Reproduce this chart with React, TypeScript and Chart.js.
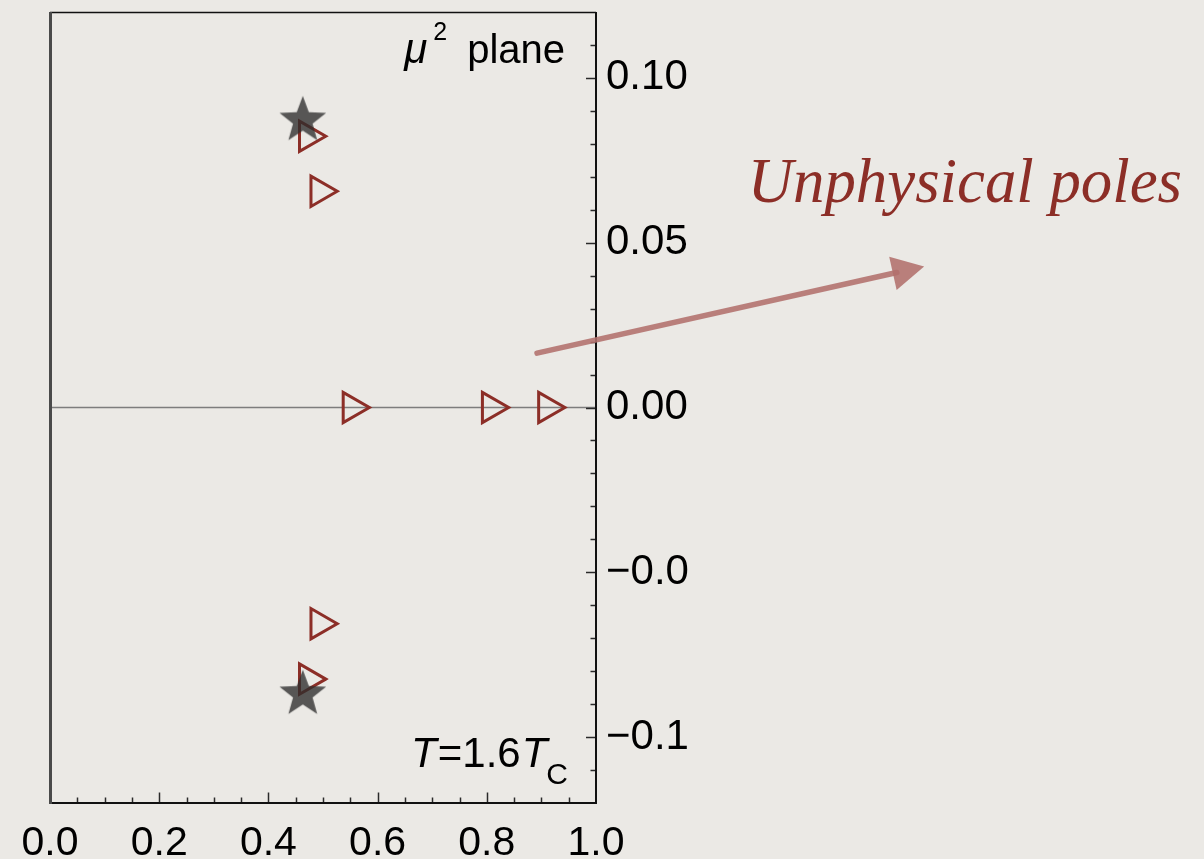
import React, { useEffect, useRef } from 'react';
import { Chart, registerables } from 'chart.js';

Chart.register(...registerables);

// ---- data ----
const starPoints = [
  { x: 0.463, y: 0.0871 },
  { x: 0.463, y: -0.087 },
];
const trianglePoints = [
  { x: 0.473, y: 0.0823 },
  { x: 0.494, y: 0.0656 },
  { x: 0.553, y: 0.0 },
  { x: 0.808, y: 0.0 },
  { x: 0.911, y: 0.0 },
  { x: 0.494, y: -0.0656 },
  { x: 0.473, y: -0.0824 },
];
const xTickValues = [0, 0.2, 0.4, 0.6, 0.8, 1.0];
const xTickLabels = ['0.0', '0.2', '0.4', '0.6', '0.8', '1.0'];
const yTickValues = [0.1, 0.05, 0, -0.05, -0.1];
const yTickLabels = ['0.10', '0.05', '0.00', '\u22120.0', '\u22120.1'];
const xRange = [0, 1];
const yRange = [-0.12, 0.12];
const xMinorStep = 0.05;
const xMajorStep = 0.2;
const yMinorStep = 0.01;
const yMajorStep = 0.05;
const arrowFrom = { x: 0.892, y: 0.0165 };
const arrowTo = { x: 1.601, y: 0.0428 };
const annotationText = 'Unphysical poles';
const planeLabel = 'plane';
const tempLabelParts = ['T', '=1.6', 'T', 'C'];

// ---- styles ----
const BG = '#ebe9e5';
const RED = '#8c2e27';
const SANS = "'Liberation Sans', Arial, Helvetica, sans-serif";
const SERIF = "'Liberation Serif', 'Times New Roman', serif";

function makeStar(): HTMLCanvasElement {
  const c = document.createElement('canvas');
  const size = 54;
  c.width = size;
  c.height = size;
  const g = c.getContext('2d')!;
  const cx = size / 2;
  const cy = size / 2;
  const R = 24.5;
  const r = R * 0.42;
  g.beginPath();
  for (let i = 0; i < 10; i++) {
    const rad = i % 2 === 0 ? R : r;
    const ang = -Math.PI / 2 + (i * Math.PI) / 5;
    const px = cx + rad * Math.cos(ang);
    const py = cy + rad * Math.sin(ang);
    if (i === 0) g.moveTo(px, py);
    else g.lineTo(px, py);
  }
  g.closePath();
  g.fillStyle = 'rgba(45,45,45,0.78)';
  g.fill();
  return c;
}

const isMultiple = (v: number, step: number) =>
  Math.abs(v / step - Math.round(v / step)) < 1e-6;

const decorPlugin = {
  id: 'decor',
  beforeDraw(chart: any) {
    const ctx = chart.ctx;
    ctx.save();
    ctx.fillStyle = BG;
    ctx.fillRect(0, 0, chart.width, chart.height);
    ctx.restore();
  },
  beforeDatasetsDraw(chart: any) {
    const { ctx, chartArea: a, scales } = chart;
    const xs = scales.x;
    const ys = scales.y;
    ctx.save();
    // zero line
    const y0 = ys.getPixelForValue(0);
    ctx.strokeStyle = '#7d7d7d';
    ctx.lineWidth = 1.6;
    ctx.beginPath();
    ctx.moveTo(a.left, y0);
    ctx.lineTo(a.right, y0);
    ctx.stroke();

    // ticks on right axis (pointing inward)
    ctx.strokeStyle = '#2a2a2a';
    ctx.lineWidth = 1.5;
    const nY = Math.round((yRange[1] - yRange[0]) / yMinorStep);
    for (let i = 1; i < nY; i++) {
      const v = yRange[0] + i * yMinorStep;
      const py = Math.round(ys.getPixelForValue(v)) + 0.5;
      const len = isMultiple(v, yMajorStep) ? 10 : 5.5;
      ctx.beginPath();
      ctx.moveTo(a.right, py);
      ctx.lineTo(a.right - len, py);
      ctx.stroke();
    }
    // ticks on bottom axis (pointing inward)
    const nX = Math.round((xRange[1] - xRange[0]) / xMinorStep);
    for (let i = 1; i < nX; i++) {
      const v = xRange[0] + i * xMinorStep;
      const px = Math.round(xs.getPixelForValue(v)) + 0.5;
      const len = isMultiple(v, xMajorStep) ? 10.5 : 5.5;
      ctx.beginPath();
      ctx.moveTo(px, a.bottom);
      ctx.lineTo(px, a.bottom - len);
      ctx.stroke();
    }

    // frame
    ctx.strokeStyle = '#111';
    ctx.lineWidth = 1.6;
    ctx.beginPath();
    ctx.moveTo(a.left, a.top + 0.5);
    ctx.lineTo(a.right, a.top + 0.5);
    ctx.stroke();
    ctx.lineWidth = 2;
    ctx.beginPath();
    ctx.moveTo(a.right, a.top);
    ctx.lineTo(a.right, a.bottom + 1);
    ctx.moveTo(a.left, a.bottom);
    ctx.lineTo(a.right + 1, a.bottom);
    ctx.stroke();
    ctx.strokeStyle = '#4a4a4a';
    ctx.lineWidth = 3;
    ctx.beginPath();
    ctx.moveTo(a.left + 0.5, a.top);
    ctx.lineTo(a.left + 0.5, a.bottom + 1);
    ctx.stroke();
    ctx.restore();
  },
  afterDraw(chart: any) {
    const { ctx, chartArea: a, scales } = chart;
    const xs = scales.x;
    const ys = scales.y;
    ctx.save();
    ctx.fillStyle = '#000';
    ctx.textBaseline = 'alphabetic';

    // "μ² plane" (top-right inside frame)
    const rightEdge = a.right - 31;
    const base1 = a.top + 51;
    ctx.font = `40px ${SANS}`;
    ctx.textAlign = 'right';
    ctx.fillText(planeLabel, rightEdge, base1);
    const wPlane = ctx.measureText(planeLabel).width;
    const supRight = rightEdge - wPlane - 20;
    ctx.font = `25px ${SANS}`;
    ctx.fillText('2', supRight, base1 - 23);
    const wTwo = ctx.measureText('2').width;
    ctx.font = `italic 42px ${SANS}`;
    ctx.fillText('\u03bc', supRight - wTwo - 6, base1);

    // "T=1.6 T_C" (bottom-right inside frame)
    const base2 = a.bottom - 36;
    let xr = a.right - 28;
    ctx.textAlign = 'right';
    ctx.font = `30px ${SANS}`;
    ctx.fillText(tempLabelParts[3], xr, base2 + 17);
    xr -= ctx.measureText(tempLabelParts[3]).width - 1;
    ctx.font = `italic 42px ${SANS}`;
    ctx.fillText(tempLabelParts[2], xr, base2);
    xr -= ctx.measureText(tempLabelParts[2]).width + 1;
    ctx.font = `42px ${SANS}`;
    ctx.fillText(tempLabelParts[1], xr, base2);
    xr -= ctx.measureText(tempLabelParts[1]).width + 1;
    ctx.font = `italic 42px ${SANS}`;
    ctx.fillText(tempLabelParts[0], xr, base2);

    // arrow
    const x1 = xs.getPixelForValue(arrowFrom.x);
    const y1 = ys.getPixelForValue(arrowFrom.y);
    const x2 = xs.getPixelForValue(arrowTo.x);
    const y2 = ys.getPixelForValue(arrowTo.y);
    const ang = Math.atan2(y2 - y1, x2 - x1);
    const headLen = 32;
    const headHalf = 17;
    const bx = x2 - headLen * Math.cos(ang);
    const by = y2 - headLen * Math.sin(ang);
    ctx.strokeStyle = 'rgba(178,112,108,0.88)';
    ctx.fillStyle = 'rgba(178,112,108,0.88)';
    ctx.lineWidth = 5.5;
    ctx.lineCap = 'round';
    ctx.beginPath();
    ctx.moveTo(x1, y1);
    ctx.lineTo(bx + 4 * Math.cos(ang), by + 4 * Math.sin(ang));
    ctx.stroke();
    ctx.beginPath();
    ctx.moveTo(x2, y2);
    ctx.lineTo(bx - headHalf * Math.sin(ang), by + headHalf * Math.cos(ang));
    ctx.lineTo(bx + headHalf * Math.sin(ang), by - headHalf * Math.cos(ang));
    ctx.closePath();
    ctx.fill();

    // annotation text
    const targetW = 434;
    ctx.font = `italic 63px ${SERIF}`;
    const w0 = ctx.measureText(annotationText).width;
    const fs = (63 * targetW) / w0;
    ctx.font = `italic ${fs.toFixed(1)}px ${SERIF}`;
    ctx.fillStyle = RED;
    ctx.textAlign = 'right';
    ctx.fillText(annotationText, 1182, 202);
    ctx.restore();
  },
};

export default function App() {
  const ref = useRef<HTMLCanvasElement | null>(null);
  useEffect(() => {
    document.body.style.margin = '0';
    document.body.style.background = BG;
    const canvas = ref.current!;
    const star = makeStar();
    const chart = new Chart(canvas, {
      type: 'scatter',
      data: {
        datasets: [
          {
            label: 'stars',
            data: starPoints,
            pointStyle: star as any,
            pointRadius: 24,
            pointHoverRadius: 24,
            backgroundColor: 'rgba(45,45,45,0.78)',
            borderColor: 'rgba(45,45,45,0.78)',
          },
          {
            label: 'poles',
            data: trianglePoints,
            pointStyle: 'triangle',
            rotation: 90,
            pointRadius: 17.5,
            pointHoverRadius: 17.5,
            borderWidth: 3,
            borderColor: RED,
            backgroundColor: 'rgba(0,0,0,0)',
          },
        ],
      },
      options: {
        responsive: false,
        animation: false,
        events: [],
        layout: {
          autoPadding: false,
          padding: { left: 50, top: 12, right: 478, bottom: 0 },
        },
        plugins: {
          legend: { display: false },
          tooltip: { enabled: false },
          title: { display: false },
        },
        scales: {
          x: {
            type: 'linear',
            position: 'bottom',
            min: xRange[0],
            max: xRange[1],
            grid: { display: false, drawTicks: false },
            border: { display: false },
            afterBuildTicks: (s: any) => {
              s.ticks = xTickValues.map((v) => ({ value: v }));
            },
            afterFit: (s: any) => {
              s.height = 56;
              s.paddingLeft = 0;
              s.paddingRight = 0;
            },
            ticks: {
              padding: 16,
              maxRotation: 0,
              autoSkip: false,
              color: '#000',
              font: { family: SANS, size: 41 },
              callback: (_v: any, i: number) => xTickLabels[i],
            },
          },
          y: {
            type: 'linear',
            position: 'right',
            min: yRange[0],
            max: yRange[1],
            grid: { display: false, drawTicks: false },
            border: { display: false },
            afterBuildTicks: (s: any) => {
              s.ticks = yTickValues.map((v) => ({ value: v }));
            },
            afterFit: (s: any) => {
              s.width = 130;
              s.paddingTop = 0;
              s.paddingBottom = 0;
            },
            ticks: {
              padding: 10,
              autoSkip: false,
              color: '#000',
              font: { family: SANS, size: 42 },
              callback: (_v: any, i: number) => yTickLabels[i],
            },
          },
        },
      },
      plugins: [decorPlugin],
    });
    return () => chart.destroy();
  }, []);
  return (
    <canvas
      ref={ref}
      width={1204}
      height={859}
      style={{ position: 'fixed', left: 0, top: 0, width: 1204, height: 859 }}
    />
  );
}
